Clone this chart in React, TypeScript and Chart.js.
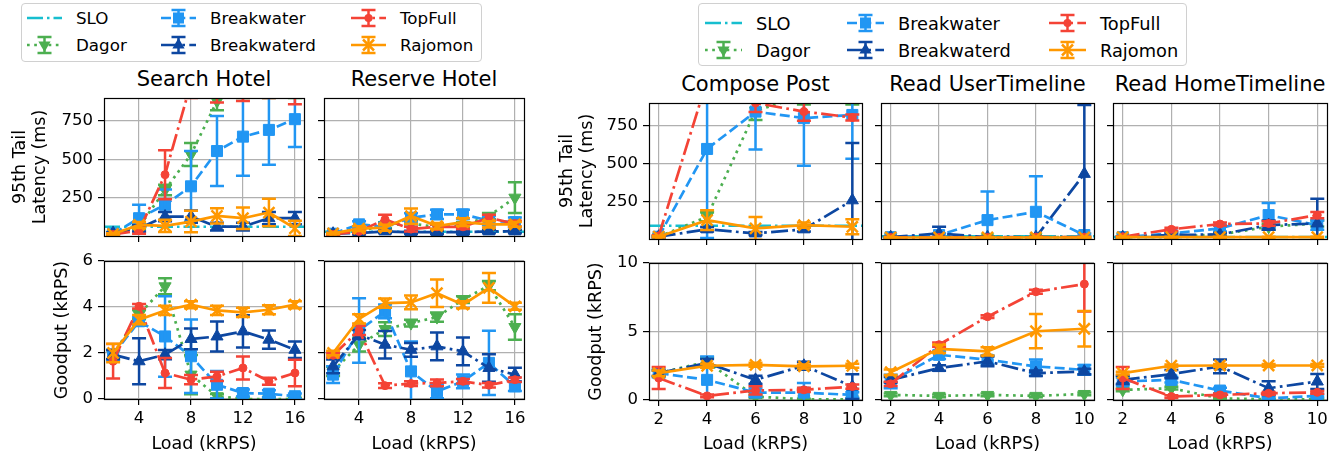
import React, { useEffect, useRef } from 'react';
import { Chart, registerables } from 'chart.js';

Chart.register(...registerables);

const FONT = 'DejaVu Sans';

// ---------------- data ----------------
const SERIES_NAMES = ['SLO', 'Dagor', 'Breakwater', 'Breakwaterd', 'TopFull', 'Rajomon'];
const SERIES_COLORS = ['#17becf', '#4caf50', '#2196f3', '#0d47a1', '#f44336', '#ff9800'];

const LOAD_HOTEL = [2, 4, 6, 8, 10, 12, 14, 16];
const LOAD_SOCIAL = [2, 4, 6, 8, 10];

const HOTEL_X_TICKS = [4, 8, 12, 16];
const SOCIAL_X_TICKS = [2, 4, 6, 8, 10];
const LATENCY_TICKS = [250, 500, 750];
const HOTEL_GOODPUT_TICKS = [0, 2, 4, 6];
const SOCIAL_GOODPUT_TICKS = [0, 5, 10];

const HOTEL_TITLES = ['Search Hotel', 'Reserve Hotel'];
const SOCIAL_TITLES = ['Compose Post', 'Read UserTimeline', 'Read HomeTimeline'];
const LATENCY_LABEL = ['95th Tail', 'Latency (ms)'];
const GOODPUT_LABEL = 'Goodput (kRPS)';
const LOAD_LABEL = 'Load (kRPS)';

const SLO_SEARCH = 60;
const SLO_RESERVE = 28;
const SLO_COMPOSE = 88;
const SLO_USER = 18;
const SLO_HOME = 14;

// rows: Dagor, Breakwater, Breakwaterd, TopFull, Rajomon
const SEARCH_LAT = [
  [15, 60, 300, 532, 880, 1000, 1000, 1000],
  [15, 116, 204, 324, 554, 648, 692, 762],
  [20, 50, 127, 127, 61, 61, 116, 116],
  [10, 35, 400, 1000, 1000, 1000, 1000, 1000],
  [13, 72, 66, 94, 131, 116, 153, 50],
];
const SEARCH_LAT_ERR = [
  [5, 15, 35, 75, 60, 100, 100, 100],
  [5, 88, 100, 230, 228, 255, 228, 182],
  [5, 20, 30, 40, 25, 25, 40, 40],
  [5, 20, 160, 100, 130, 120, 100, 140],
  [5, 20, 40, 70, 50, 70, 90, 50],
];
const RESERVE_LAT = [
  [15, 30, 70, 80, 60, 70, 130, 250],
  [15, 76, 60, 119, 141, 141, 100, 90],
  [15, 20, 30, 25, 25, 25, 30, 30],
  [10, 30, 108, 45, 60, 60, 119, 80],
  [17, 48, 54, 130, 65, 91, 76, 76],
];
const RESERVE_LAT_ERR = [
  [5, 10, 20, 20, 15, 20, 20, 100],
  [5, 20, 25, 30, 30, 30, 30, 30],
  [5, 10, 10, 10, 10, 10, 10, 10],
  [5, 10, 30, 15, 15, 15, 20, 20],
  [5, 15, 20, 50, 20, 25, 20, 15],
];
const SEARCH_GOOD = [
  [1.93, 3.67, 4.9, 1.06, 0.12, 0, 0, 0],
  [1.93, 3.38, 2.72, 1.86, 0.62, 0.26, 0.23, 0.12],
  [1.93, 1.64, 1.93, 2.61, 2.72, 2.94, 2.58, 2.14],
  [1.64, 4.03, 1.13, 0.84, 0.98, 1.35, 0.77, 1.13],
  [2.0, 3.45, 3.85, 4.1, 3.85, 3.77, 3.88, 4.1],
];
const SEARCH_GOOD_ERR = [
  [0.2, 0.2, 0.35, 0.85, 0.1, 0.05, 0.05, 0.05],
  [0.2, 0.2, 1.75, 1.6, 0.6, 0.15, 0.15, 0.12],
  [0.2, 1.0, 0.2, 0.45, 0.65, 0.7, 0.4, 0.36],
  [0.75, 0.1, 0.65, 0.2, 0.2, 0.5, 0.15, 0.58],
  [0.4, 0.2, 0.2, 0.15, 0.2, 0.2, 0.2, 0.15],
];
const RESERVE_GOOD = [
  [1.2, 2.36, 3.04, 3.3, 3.56, 4.32, 4.93, 3.13],
  [1.06, 2.98, 3.81, 1.2, 0.33, 0.77, 1.57, 0.55],
  [1.42, 2.8, 2.36, 2.14, 2.29, 2.07, 1.35, 1.06],
  [1.9, 2.98, 0.58, 0.67, 0.7, 0.77, 0.6, 0.84],
  [2.0, 3.48, 4.17, 4.2, 4.6, 4.1, 4.83, 4.03],
];
const RESERVE_GOOD_ERR = [
  [0.2, 0.3, 0.3, 0.15, 0.2, 0.15, 0.2, 0.55],
  [0.36, 1.4, 0.3, 1.3, 0.3, 0.3, 1.4, 0.2],
  [0.3, 0.2, 0.6, 0.3, 0.6, 0.6, 0.6, 0.3],
  [0.1, 0.2, 0.1, 0.1, 0.15, 0.1, 0.1, 0.1],
  [0.1, 0.2, 0.2, 0.3, 0.6, 0.15, 0.65, 0.15],
];

const COMPOSE_LAT = [
  [15, 147, 848, 950, 950],
  [15, 596, 843, 800, 821],
  [15, 64, 37, 64, 256],
  [20, 1050, 900, 843, 804],
  [15, 125, 70, 92, 81],
];
const COMPOSE_LAT_ERR = [
  [5, 30, 60, 60, 60],
  [5, 590, 250, 315, 290],
  [5, 15, 10, 15, 380],
  [5, 100, 60, 60, 20],
  [5, 65, 75, 17, 50],
];
const USER_LAT = [
  [12, 12, 12, 12, 12],
  [12, 26, 125, 180, 26],
  [12, 37, 12, 12, 431],
  [10, 10, 10, 12, 12],
  [10, 10, 10, 10, 10],
];
const USER_LAT_ERR = [
  [3, 3, 3, 3, 3],
  [3, 10, 190, 236, 10],
  [3, 44, 3, 3, 456],
  [3, 3, 3, 3, 3],
  [3, 3, 3, 3, 3],
];
const HOME_LAT = [
  [12, 15, 30, 81, 103],
  [12, 37, 70, 158, 92],
  [12, 26, 30, 92, 103],
  [15, 64, 99, 103, 158],
  [12, 12, 12, 12, 12],
];
const HOME_LAT_ERR = [
  [3, 5, 10, 20, 20],
  [3, 10, 20, 81, 30],
  [3, 10, 10, 30, 164],
  [3, 10, 10, 15, 20],
  [3, 3, 3, 3, 3],
];
const COMPOSE_GOOD = [
  [1.96, 2.8, 0.25, 0.05, 0.05],
  [1.96, 1.47, 0.54, 0.54, 0.37],
  [1.96, 2.7, 1.47, 2.5, 0.98],
  [1.6, 0.3, 0.7, 0.74, 0.98],
  [1.96, 2.5, 2.57, 2.45, 2.5],
];
const COMPOSE_GOOD_ERR = [
  [0.2, 0.3, 0.1, 0.05, 0.05],
  [0.3, 1.7, 0.3, 0.7, 0.2],
  [0.2, 0.3, 0.3, 0.3, 0.9],
  [0.8, 0.1, 0.3, 0.15, 0.15],
  [0.2, 0.15, 0.15, 0.15, 0.15],
];
const USER_GOOD = [
  [0.37, 0.3, 0.37, 0.3, 0.44],
  [1.35, 3.3, 2.94, 2.45, 2.2],
  [1.47, 2.33, 2.82, 1.96, 2.08],
  [1.18, 4.04, 6.08, 7.9, 8.46],
  [2.03, 3.73, 3.55, 5.02, 5.2],
];
const USER_GOOD_ERR = [
  [0.1, 0.1, 0.1, 0.1, 0.1],
  [0.5, 0.3, 0.3, 0.5, 0.35],
  [0.2, 0.2, 0.35, 0.2, 0.2],
  [0.15, 0.15, 0.1, 0.15, 2.0],
  [0.2, 0.3, 0.3, 1.25, 1.3],
];
const HOME_GOOD = [
  [0.74, 0.86, 0.12, 0.05, 0.05],
  [1.35, 1.47, 0.69, 0.12, 0.3],
  [1.47, 1.89, 2.45, 0.86, 1.35],
  [1.6, 0.25, 0.37, 0.49, 0.56],
  [1.96, 2.5, 2.52, 2.52, 2.52],
];
const HOME_GOOD_ERR = [
  [0.1, 0.1, 0.05, 0.05, 0.05],
  [0.3, 0.2, 0.2, 0.1, 0.1],
  [0.3, 0.3, 0.5, 0.5, 0.55],
  [0.8, 0.1, 0.1, 0.1, 0.1],
  [0.1, 0.1, 0.1, 0.1, 0.1],
];

// ---------------- styles ----------------
const LINE_W = 2.7;
const LINE_DASH = [[16, 4, 2.5, 4], [2.7, 4.5], [10, 4.3], [17, 4.3, 2.7, 4.3], [17, 4.3, 2.7, 4.3], []];
const MARKER = ['circle', 'triangle', 'rect', 'triangle', 'circle', 'crossRot'];
const MARKER_ROT = [0, 180, 0, 0, 0, 0];
const MARKER_R = [0, 7, 7.8, 7, 4, 7.8];
const CAP = 7;
const GRID = '#b0b0b0';

const errorBarPlugin = {
  id: 'errbars',
  afterDatasetDraw(chart: any, args: any) {
    const ds = chart.data.datasets[args.index];
    const errs = ds.errors as number[] | undefined;
    if (!errs) return;
    const ctx = chart.ctx;
    const a = chart.chartArea;
    const ys = chart.scales.y;
    ctx.save();
    ctx.beginPath();
    ctx.rect(a.left, a.top, a.right - a.left, a.bottom - a.top);
    ctx.clip();
    ctx.strokeStyle = ds.borderColor;
    ctx.lineWidth = 2.5;
    ctx.setLineDash([]);
    args.meta.data.forEach((pt: any, i: number) => {
      const v = ds.data[i].y;
      const e = errs[i];
      const yt = ys.getPixelForValue(v + e);
      const yb = ys.getPixelForValue(v - e);
      ctx.beginPath();
      ctx.moveTo(pt.x, yt);
      ctx.lineTo(pt.x, yb);
      ctx.moveTo(pt.x - CAP, yt);
      ctx.lineTo(pt.x + CAP, yt);
      ctx.moveTo(pt.x - CAP, yb);
      ctx.lineTo(pt.x + CAP, yb);
      ctx.stroke();
    });
    ctx.restore();
  },
};

const spinePlugin = {
  id: 'spines',
  afterDraw(chart: any) {
    const ctx = chart.ctx;
    const a = chart.chartArea;
    ctx.save();
    ctx.strokeStyle = '#000';
    ctx.lineWidth = 1.2;
    ctx.setLineDash([]);
    ctx.strokeRect(Math.round(a.left) + 0.5, Math.round(a.top) + 0.5, Math.round(a.right - a.left), Math.round(a.bottom - a.top));
    ctx.restore();
  },
};

type PanelSpec = {
  L: number; T: number; R: number; B: number;
  x: number[]; xMin: number; xMax: number; xTicks: number[]; xLabels: boolean;
  yMin: number; yMax: number; yTicks: number[]; yLabels: boolean;
  yTitle?: string | string[]; yTitleX?: number;
  xTitle?: string; xTitleY?: number;
  means: number[][]; errs: number[][]; slo?: number;
};

const ML = 130, MR = 25, MT = 20, MB = 65;
const TICK_FONT = 16.5;
const LABEL_FONT = 17.5;
const LABEL_LH = 20.5;

function Panel(p: PanelSpec) {
  const ref = useRef<HTMLCanvasElement>(null);
  const w = ML + (p.R - p.L) + MR;
  const h = MT + (p.B - p.T) + MB;
  const left = p.L - ML;
  const top = p.T - MT;
  useEffect(() => {
    const datasets: any[] = [];
    if (p.slo !== undefined) {
      datasets.push({
        data: [{ x: p.xMin, y: p.slo }, { x: p.xMax, y: p.slo }],
        borderColor: SERIES_COLORS[0], backgroundColor: SERIES_COLORS[0],
        borderWidth: 2.5, borderDash: LINE_DASH[0], pointRadius: 0, order: 0,
      });
    }
    p.means.forEach((m, k) => {
      const s = k + 1;
      datasets.push({
        data: p.x.map((xv, i) => ({ x: xv, y: m[i] })),
        errors: p.errs[k],
        borderColor: SERIES_COLORS[s], backgroundColor: SERIES_COLORS[s],
        borderWidth: LINE_W, borderDash: LINE_DASH[s],
        pointStyle: MARKER[s], pointRotation: MARKER_ROT[s], pointRadius: MARKER_R[s],
        pointBorderWidth: MARKER[s] === 'crossRot' ? 2.5 : 1,
        pointBorderColor: SERIES_COLORS[s], pointBackgroundColor: SERIES_COLORS[s],
        order: -s, tension: 0,
      });
    });
    const lh = LABEL_LH;
    const yPad = p.yTitleX !== undefined ? p.yTitleX - left - lh / 2 : 0;
    const xPad = p.xTitleY !== undefined ? p.B + MB - lh / 2 - p.xTitleY : 0;
    const tickFont = { family: FONT, size: TICK_FONT };
    const titleFont = { family: FONT, size: LABEL_FONT, lineHeight: lh / LABEL_FONT };
    const chart = new Chart(ref.current as HTMLCanvasElement, {
      type: 'line',
      data: { datasets },
      options: {
        animation: false, responsive: false, devicePixelRatio: 1, events: [],
        layout: { padding: { left: 0, right: MR, top: MT, bottom: 0 } },
        plugins: { legend: { display: false }, tooltip: { enabled: false }, title: { display: false } },
        scales: {
          x: {
            type: 'linear', min: p.xMin, max: p.xMax,
            afterBuildTicks: (s: any) => { s.ticks = p.xTicks.map((v) => ({ value: v })); },
            afterFit: (s: any) => { s.height = MB; },
            grid: { color: GRID, lineWidth: 1.2, tickColor: '#000', tickWidth: 1.2, tickLength: 6, drawTicks: true },
            border: { display: false },
            ticks: { display: p.xLabels, font: tickFont, color: '#000', padding: 4, autoSkip: false, maxRotation: 0, callback: (v: any) => String(v) },
            title: { display: !!p.xTitle, text: p.xTitle || '', font: titleFont, color: '#000', padding: { top: 0, bottom: xPad } },
          },
          y: {
            type: 'linear', min: p.yMin, max: p.yMax,
            afterBuildTicks: (s: any) => { s.ticks = p.yTicks.map((v) => ({ value: v })); },
            afterFit: (s: any) => { s.width = ML; },
            grid: { color: GRID, lineWidth: 1.2, tickColor: '#000', tickWidth: 1.2, tickLength: 6, drawTicks: true },
            border: { display: false },
            ticks: { display: p.yLabels, font: tickFont, color: '#000', padding: 5, autoSkip: false, callback: (v: any) => String(v) },
            title: { display: !!p.yTitle, text: (p.yTitle || '') as any, font: titleFont, color: '#000', padding: { top: yPad, bottom: 0 } },
          },
        },
      } as any,
      plugins: [errorBarPlugin, spinePlugin],
    });
    return () => chart.destroy();
  }, []);
  return <canvas ref={ref} width={w} height={h} style={{ position: 'absolute', left, top, width: w, height: h }} />;
}

function PanelTitle({ text, cx, baseline }: { text: string; cx: number; baseline: number }) {
  const fs = 21;
  return (
    <div style={{ position: 'absolute', left: cx - 200, width: 400, top: baseline - 0.846 * fs, fontSize: fs, lineHeight: 1, textAlign: 'center', fontFamily: FONT, color: '#000', whiteSpace: 'nowrap' }}>
      {text}
    </div>
  );
}

function LegendIcon({ s, w }: { s: number; w: number }) {
  const c = SERIES_COLORS[s];
  const h = 24, cy = 12, cx = w / 2;
  let marker: any = null;
  if (s === 1) marker = <polygon points={`${cx - 6.1},${cy - 3.5} ${cx + 6.1},${cy - 3.5} ${cx},${cy + 7}`} fill={c} />;
  if (s === 2) marker = <rect x={cx - 5.5} y={cy - 5.5} width={11} height={11} fill={c} />;
  if (s === 3) marker = <polygon points={`${cx - 6.1},${cy + 3.5} ${cx + 6.1},${cy + 3.5} ${cx},${cy - 7}`} fill={c} />;
  if (s === 4) marker = <circle cx={cx} cy={cy} r={4} fill={c} />;
  if (s === 5) marker = (
    <g stroke={c} strokeWidth={2.5}>
      <line x1={cx - 5.5} y1={cy - 5.5} x2={cx + 5.5} y2={cy + 5.5} />
      <line x1={cx - 5.5} y1={cy + 5.5} x2={cx + 5.5} y2={cy - 5.5} />
    </g>
  );
  const dash = LINE_DASH[s];
  return (
    <svg width={w} height={h} style={{ position: 'absolute', left: 0, top: -h / 2 }}>
      <line x1={0} y1={cy} x2={w} y2={cy} stroke={c} strokeWidth={s === 0 ? 2.5 : LINE_W} strokeDasharray={dash.length ? dash.join(' ') : undefined} />
      {s > 0 && (
        <g stroke={c} strokeWidth={2.5}>
          <line x1={cx} y1={cy - 8} x2={cx} y2={cy + 8} />
          <line x1={cx - CAP} y1={cy - 8} x2={cx + CAP} y2={cy - 8} />
          <line x1={cx - CAP} y1={cy + 8} x2={cx + CAP} y2={cy + 8} />
        </g>
      )}
      {marker}
    </svg>
  );
}

type LegendSpec = {
  box: [number, number, number, number];
  rows: [number, number];
  iconX: number[];
  textX: number[];
  iconW: number;
  fs: number;
};

function Legend({ box, rows, iconX, textX, iconW, fs }: LegendSpec) {
  const items: any[] = [];
  SERIES_NAMES.forEach((name, s) => {
    const col = Math.floor(s / 2);
    const row = s % 2;
    const yc = rows[row];
    items.push(
      <div key={'i' + s} style={{ position: 'absolute', left: iconX[col], top: yc, width: iconW, height: 0 }}>
        <LegendIcon s={s} w={iconW} />
      </div>
    );
    const baseline = yc + 0.375 * fs;
    items.push(
      <div key={'t' + s} style={{ position: 'absolute', left: textX[col], top: baseline - 0.846 * fs, fontSize: fs, lineHeight: 1, fontFamily: FONT, color: '#000', whiteSpace: 'nowrap' }}>
        {name}
      </div>
    );
  });
  return (
    <>
      <div style={{ position: 'absolute', left: box[0], top: box[1], width: box[2] - box[0], height: box[3] - box[1], border: '1px solid #d0d0d0', borderRadius: 4, background: 'rgba(255,255,255,0.8)', boxSizing: 'border-box' }} />
      {items}
    </>
  );
}

export default function App() {
  useEffect(() => {
    document.body.style.margin = '0';
  }, []);
  const hx = { x: LOAD_HOTEL, xMin: 1.3, xMax: 16.7, xTicks: HOTEL_X_TICKS };
  const sx = { x: LOAD_SOCIAL, xMin: 1.6, xMax: 10.4, xTicks: SOCIAL_X_TICKS };
  const latY = { yMin: 0, yMax: 900, yTicks: LATENCY_TICKS };
  const hgY = { yMin: 0, yMax: 6, yTicks: HOTEL_GOODPUT_TICKS };
  const sgY = { yMin: 0, yMax: 10, yTicks: SOCIAL_GOODPUT_TICKS };
  const HT = 98, HB = 236, HT2 = 261, HB2 = 399;
  const ST = 103, SB = 239, ST2 = 263, SB2 = 400;
  const hotelCols = [[104, 304], [324, 524]];
  const socialCols = [[649, 862], [881, 1094], [1113, 1327]];
  return (
    <div style={{ position: 'absolute', left: 0, top: 0, width: 1343, height: 459, overflow: 'hidden', background: '#fff', fontFamily: FONT }}>
      <Legend box={[21, 3, 482, 62]} rows={[18, 44.5]} iconX={[27, 161, 351]} textX={[76, 210, 400]} iconW={35} fs={16.7} />
      <Legend box={[698, 3, 1187, 66]} rows={[23, 50]} iconX={[705, 847, 1049]} textX={[756, 898, 1100]} iconW={37} fs={17.8} />

      {HOTEL_TITLES.map((t, i) => (
        <PanelTitle key={t} text={t} cx={(hotelCols[i][0] + hotelCols[i][1]) / 2} baseline={87} />
      ))}
      {SOCIAL_TITLES.map((t, i) => (
        <PanelTitle key={t} text={t} cx={(socialCols[i][0] + socialCols[i][1]) / 2} baseline={92} />
      ))}

      <Panel L={104} R={304} T={HT} B={HB} {...hx} xLabels={false} {...latY} yLabels={true} yTitle={LATENCY_LABEL} yTitleX={20} means={SEARCH_LAT} errs={SEARCH_LAT_ERR} slo={SLO_SEARCH} />
      <Panel L={324} R={524} T={HT} B={HB} {...hx} xLabels={false} {...latY} yLabels={false} means={RESERVE_LAT} errs={RESERVE_LAT_ERR} slo={SLO_RESERVE} />
      <Panel L={104} R={304} T={HT2} B={HB2} {...hx} xLabels={true} xTitle={LOAD_LABEL} xTitleY={444} {...hgY} yLabels={true} yTitle={GOODPUT_LABEL} yTitleX={62} means={SEARCH_GOOD} errs={SEARCH_GOOD_ERR} />
      <Panel L={324} R={524} T={HT2} B={HB2} {...hx} xLabels={true} xTitle={LOAD_LABEL} xTitleY={444} {...hgY} yLabels={false} means={RESERVE_GOOD} errs={RESERVE_GOOD_ERR} />

      <Panel L={649} R={862} T={ST} B={SB} {...sx} xLabels={false} {...latY} yLabels={true} yTitle={LATENCY_LABEL} yTitleX={567} means={COMPOSE_LAT} errs={COMPOSE_LAT_ERR} slo={SLO_COMPOSE} />
      <Panel L={881} R={1094} T={ST} B={SB} {...sx} xLabels={false} {...latY} yLabels={false} means={USER_LAT} errs={USER_LAT_ERR} slo={SLO_USER} />
      <Panel L={1113} R={1327} T={ST} B={SB} {...sx} xLabels={false} {...latY} yLabels={false} means={HOME_LAT} errs={HOME_LAT_ERR} slo={SLO_HOME} />
      <Panel L={649} R={862} T={ST2} B={SB2} {...sx} xLabels={true} xTitle={LOAD_LABEL} xTitleY={444} {...sgY} yLabels={true} yTitle={GOODPUT_LABEL} yTitleX={596} means={COMPOSE_GOOD} errs={COMPOSE_GOOD_ERR} />
      <Panel L={881} R={1094} T={ST2} B={SB2} {...sx} xLabels={true} xTitle={LOAD_LABEL} xTitleY={444} {...sgY} yLabels={false} means={USER_GOOD} errs={USER_GOOD_ERR} />
      <Panel L={1113} R={1327} T={ST2} B={SB2} {...sx} xLabels={true} xTitle={LOAD_LABEL} xTitleY={444} {...sgY} yLabels={false} means={HOME_GOOD} errs={HOME_GOOD_ERR} />
    </div>
  );
}
